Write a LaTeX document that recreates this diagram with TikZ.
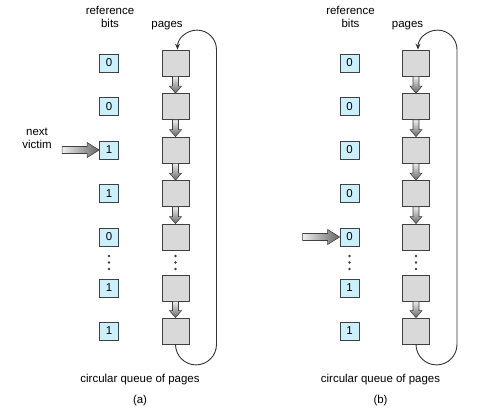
\documentclass[tikz,border=0pt]{standalone}
\usepackage{fontspec}
\setmainfont{Liberation Sans}
\usetikzlibrary{calc,arrows.meta}
\definecolor{bitfill}{HTML}{CCF0FB}
\definecolor{pagefill}{HTML}{D9D9D9}
\definecolor{edgegray}{HTML}{404040}
\definecolor{loopgray}{HTML}{333333}
\definecolor{arrowlight}{HTML}{EEEEEE}
\definecolor{arrowdark}{HTML}{666666}
\newcommand{\lab}{\fontsize{11.5}{12.5}\selectfont}
\newcommand{\fatdown}[2]{%
  \path[fatarrow, top color=arrowlight, bottom color=arrowdark]
    ($(#1.south)+(-3,0)$) -- ($(#2.north)+(-3,-7)$) -- ($(#2.north)+(-6,-7)$)
    -- (#2.north) -- ($(#2.north)+(6,-7)$) -- ($(#2.north)+(3,-7)$)
    -- ($(#1.south)+(3,0)$) -- cycle;}
\newcommand{\fatright}[2]{%
  \path[fatarrow, left color=arrowlight, right color=arrowdark]
    ($(#1)+(0,-3.5)$) -- ($(#2)+(-12,-3.5)$) -- ($(#2)+(-12,-7.5)$)
    -- (#2) -- ($(#2)+(-12,7.5)$) -- ($(#2)+(-12,3.5)$)
    -- ($(#1)+(0,3.5)$) -- cycle;}
\tikzset{
  bitbox/.style={draw=edgegray, fill=bitfill, line width=0.8bp, minimum width=19bp, minimum height=18bp, inner sep=0pt, font=\lab},
  pagebox/.style={draw=edgegray, fill=pagefill, line width=0.8bp, minimum width=27bp, minimum height=26bp, inner sep=0pt},
  fatarrow/.style={draw=edgegray, line width=0.6bp},
  loopline/.style={draw=loopgray, line width=0.9bp, -{Stealth[length=6bp,width=5bp]}},
  lbl/.style={font=\lab, inner sep=0pt, text=black},
  vdot/.style={fill=edgegray, draw=none}
}
\begin{document}
\begin{tikzpicture}[x=1bp,y=-1bp]
\useasboundingbox (0,0) rectangle (501,419);
\foreach \pn/\o/\cap in {a/0/(a), b/240.5/(b)} {
  % headers
  \node[lbl, align=center, anchor=base] (\pn-hdr) at (110+\o,27) {reference\\bits};
  \node[lbl, anchor=base] (\pn-pg) at (167+\o,27) {pages};
  \node[lbl, anchor=base] (\pn-cq) at (140+\o,382.5) {circular queue of pages};
  \node[lbl, anchor=base] (\pn-cap) at (140+\o,403) {\cap};
  % dots
  \foreach \dy in {256,262.5,269} {
    \fill[vdot] (109+\o,\dy) circle (1.3);
    \fill[vdot] (175.5+\o,\dy) circle (1.3);
  }
}
\foreach \y/\va/\vb [count=\i] in {63/0/0, 106.5/0/0, 150/1/0, 193.5/1/0, 237/0/0, 288/1/1, 331/1/1} {
  \node[bitbox] (a-b\i) at (109,\y) {\va};
  \node[pagebox] (a-p\i) at (175.5,\y) {};
  \node[bitbox] (b-b\i) at (349.5,\y) {\vb};
  \node[pagebox] (b-p\i) at (416,\y) {};
}
\foreach \pn in {a,b} {
  \foreach \i/\j in {1/2,2/3,3/4,4/5,6/7} {
    \fatdown{\pn-p\i}{\pn-p\j}
  }
  \draw[loopline] (\pn-p7.south) .. controls +(0,11.3) and +(-11.3,0) .. ++(20.5,20.5)
     .. controls +(11.3,0) and +(0,11.3) .. ++(20.5,-20.5)
     -- ($(\pn-p1.north)+(41,0)$)
     .. controls +(0,-10.8) and +(10.8,0) .. ++(-19.5,-19.5)
     .. controls +(-10.8,0) and +(0,-10.8) .. ($(\pn-p1.north)+(2,0)$);
}
% next victim
\node[lbl, align=center, anchor=base] (nv) at (37,148) {next\\victim};
\coordinate (a-tail) at ($(a-b3.west)+(-37,0)$);
\coordinate (a-tip) at (a-b3.west);
\fatright{a-tail}{a-tip}
\coordinate (b-tail) at ($(b-b5.west)+(-37,0)$);
\coordinate (b-tip) at (b-b5.west);
\fatright{b-tail}{b-tip}
\end{tikzpicture}
\end{document}
